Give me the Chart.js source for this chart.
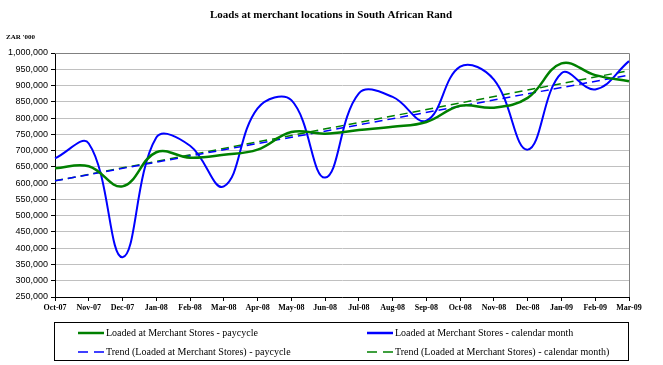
<!DOCTYPE html>
<html>
<head>
<meta charset="utf-8">
<script src="https://cdn.jsdelivr.net/npm/chart.js@4.4.1/dist/chart.umd.min.js"></script>
<style>
  html, body { margin: 0; padding: 0; background: #fff; }
  #wrap { width: 663px; height: 365px; position: relative; }
</style>
</head>
<body>
<div id="wrap"><canvas id="loadsChart"></canvas></div>
<script>
// months on the x axis
const months = ['Oct-07', 'Nov-07', 'Dec-07', 'Jan-08', 'Feb-08', 'Mar-08', 'Apr-08', 'May-08', 'Jun-08',
  'Jul-08', 'Aug-08', 'Sep-08', 'Oct-08', 'Nov-08', 'Dec-08', 'Jan-09', 'Feb-09', 'Mar-09'];

// ZAR '000
const paycycle = [646000, 652000, 590000, 695000, 678000, 687000, 703000, 757000, 752000,
  763000, 773000, 788000, 838000, 832000, 862000, 968000, 932000, 913000];
const calendarMonth = [676000, 722000, 372000, 740000, 715000, 590000, 830000, 855000, 617000,
  876000, 865000, 792000, 958000, 918000, 703000, 938000, 888000, 975000];

// trend lines: value at the first and last month
const trendPaycycle = [607000, 932000];
const trendCalendar = [607000, 946000];

const yTicks = { min: 250000, max: 1000000, step: 50000 };

const serif = 'Liberation Serif, Times New Roman, serif';

// title, unit label, plot border and the boxed legend
const decorPlugin = {
  id: 'decor',
  beforeDatasetsDraw(chart) {
    const { ctx, chartArea: a } = chart;
    ctx.save();
    ctx.strokeStyle = '#808080';
    ctx.lineWidth = 1;
    ctx.beginPath();
    ctx.moveTo(a.left, a.top + 0.5);
    ctx.lineTo(a.right + 0.5, a.top + 0.5);
    ctx.lineTo(a.right + 0.5, a.bottom);
    ctx.stroke();
    ctx.restore();
  },
  afterDraw(chart) {
    const { ctx } = chart;
    ctx.save();
    ctx.fillStyle = '#000';
    ctx.textBaseline = 'middle';
    ctx.textAlign = 'center';
    ctx.font = 'bold 11px ' + serif;
    ctx.fillText('Loads at merchant locations in South African Rand', 331, 15);
    ctx.textAlign = 'left';
    ctx.font = 'bold 7px ' + serif;
    ctx.fillText("ZAR '000", 6, 37);

    // legend box
    ctx.strokeStyle = '#000';
    ctx.lineWidth = 1;
    ctx.strokeRect(54.5, 322.5, 574, 38);
    const cols = [78, 367];
    const rows = [333, 352];
    ctx.font = '10px ' + serif;
    chart.data.datasets.forEach((ds, i) => {
      const x = cols[i % 2];
      const y = rows[Math.floor(i / 2)];
      ctx.strokeStyle = ds.borderColor;
      ctx.lineWidth = ds.borderDash ? 1.5 : 2.5;
      ctx.setLineDash(ds.borderDash ? [10, 6] : []);
      ctx.beginPath();
      ctx.moveTo(x, y);
      ctx.lineTo(x + 26, y);
      ctx.stroke();
      ctx.setLineDash([]);
      ctx.fillStyle = '#000';
      ctx.fillText(ds.label, x + 28, y);
    });
    ctx.restore();
  }
};

const ctxEl = document.getElementById('loadsChart');
const loadsChart = new Chart(ctxEl, {
  type: 'line',
  data: {
    labels: months,
    datasets: [
      {
        label: 'Loaded at Merchant Stores - paycycle',
        data: paycycle,
        borderColor: '#008000',
        borderWidth: 2.5,
        tension: 0.4,
        pointRadius: 0,
        fill: false
      },
      {
        label: 'Loaded at Merchant Stores - calendar month',
        data: calendarMonth,
        borderColor: '#0000ff',
        borderWidth: 2,
        tension: 0.4,
        pointRadius: 0,
        fill: false
      },
      {
        label: 'Trend (Loaded at Merchant Stores) - paycycle',
        data: [
          { x: months[0], y: trendPaycycle[0] },
          { x: months[months.length - 1], y: trendPaycycle[1] }
        ],
        borderColor: '#0000ff',
        borderWidth: 1.5,
        borderDash: [8, 5],
        pointRadius: 0,
        fill: false
      },
      {
        label: 'Trend (Loaded at Merchant Stores) - calendar month)',
        data: [
          { x: months[0], y: trendCalendar[0] },
          { x: months[months.length - 1], y: trendCalendar[1] }
        ],
        borderColor: '#008000',
        borderWidth: 1.5,
        borderDash: [8, 5],
        pointRadius: 0,
        fill: false
      }
    ]
  },
  options: {
    responsive: true,
    maintainAspectRatio: false,
    animation: false,
    layout: {
      padding: { top: 53, left: 0, right: 34, bottom: 50 }
    },
    scales: {
      x: {
        type: 'category',
        offset: false,
        grid: {
          drawOnChartArea: false,
          drawTicks: true,
          tickLength: 4,
          tickColor: '#000'
        },
        border: { color: '#000', width: 1 },
        ticks: {
          color: '#000',
          font: { family: serif, size: 8, weight: 'bold' },
          maxRotation: 0,
          autoSkip: false,
          padding: 2
        },
        afterFit(scale) { scale.height = 18; }
      },
      y: {
        min: yTicks.min,
        max: yTicks.max,
        grid: {
          color: '#c0c0c0',
          borderDash: [3, 3],
          tickColor: '#000',
          tickBorderDash: [],
          tickLength: 4
        },
        border: { color: '#000', width: 1 },
        ticks: {
          stepSize: yTicks.step,
          color: '#000',
          padding: 3,
          font: { family: 'Liberation Sans, Arial, sans-serif', size: 9 },
          callback: (v) => v.toLocaleString('en-US')
        },
        afterFit(scale) { scale.width = 55; }
      }
    },
    plugins: {
      legend: { display: false },
      title: { display: false },
      tooltip: { enabled: false }
    }
  },
  plugins: [decorPlugin]
});
</script>
</body>
</html>
